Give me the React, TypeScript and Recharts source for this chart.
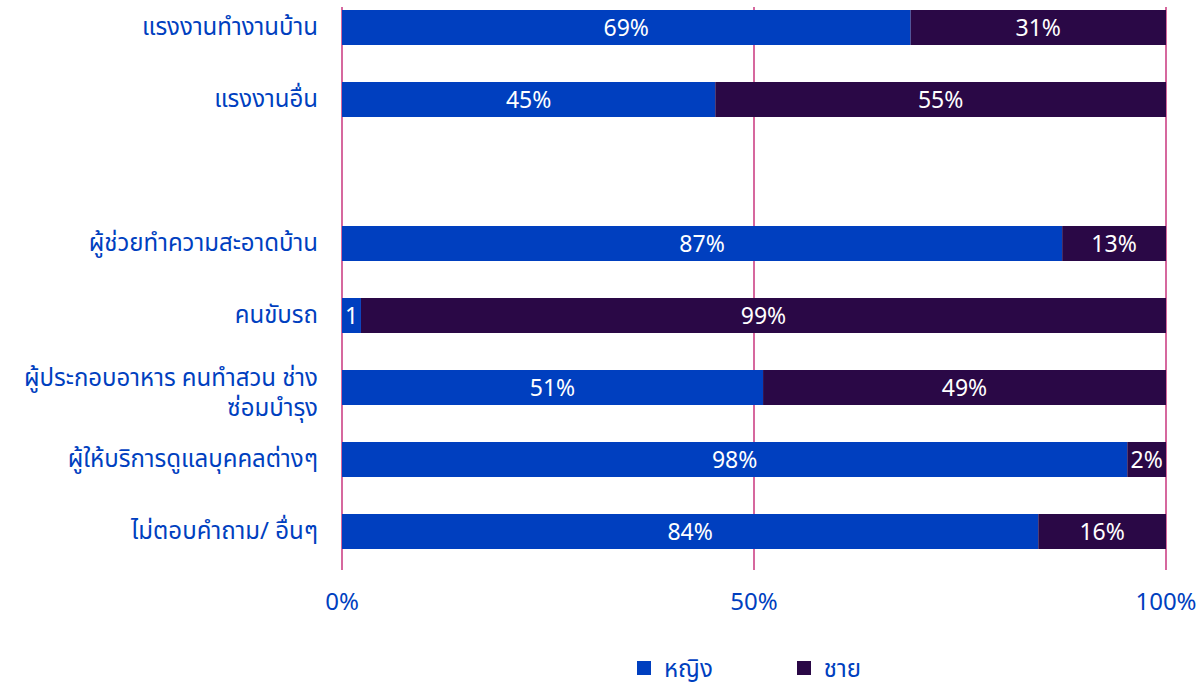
import { BarChart, Bar, XAxis, YAxis, CartesianGrid, Legend, LabelList } from 'recharts';

const categories = [
  'แรงงานทำงานบ้าน',
  'แรงงานอื่น',
  '',
  'ผู้ช่วยทำความสะอาดบ้าน',
  'คนขับรถ',
  'ผู้ประกอบอาหาร คนทำสวน ช่าง\nซ่อมบำรุง',
  'ผู้ให้บริการดูแลบุคคลต่างๆ',
  'ไม่ตอบคำถาม/ อื่นๆ',
];
const female = [69, 45.3, null, 87.4, 2.3, 51.1, 95.3, 84.5];
const male = [31, 54.7, null, 12.6, 97.7, 48.9, 4.7, 15.5];
const femaleLabels = ['69%', '45%', '', '87%', '1', '51%', '98%', '84%'];
const maleLabels = ['31%', '55%', '', '13%', '99%', '49%', '2%', '16%'];
const xTicks = [0, 50, 100];

const BLUE = '#003FBF';
const PURPLE = '#2A0846';
const GRID = '#C0176A';
const FONT = '"Noto Sans", "Noto Sans Thai", Tahoma, sans-serif';

const data = categories.map((name, i) => ({
  name,
  female: female[i],
  male: male[i],
  fLabel: femaleLabels[i],
  mLabel: maleLabels[i],
}));

const legendItems = [
  { value: 'หญิง', color: BLUE },
  { value: 'ชาย', color: PURPLE },
];

// eslint-disable-next-line @typescript-eslint/no-explicit-any
const CatTick = ({ x, y, payload }: any) => {
  const lines = String(payload.value).split('\n');
  const lh = 30;
  const start = lines.length > 1 ? -9 : 0;
  return (
    <text x={x - 16} y={y} textAnchor="end" fill={BLUE} fontSize={24} fontFamily={FONT}>
      {lines.map((l, i) => (
        <tspan key={i} x={x - 16} y={y + start + i * lh} dy="0.35em">{l}</tspan>
      ))}
    </text>
  );
};

// eslint-disable-next-line @typescript-eslint/no-explicit-any
const PctTick = ({ x, y, payload }: any) => (
  <text x={x} y={y + 32} textAnchor="middle" fill={BLUE} fontSize={24} fontFamily={FONT}>
    {payload.value}%
  </text>
);

const LegendContent = () => (
  <div style={{
    display: 'flex', justifyContent: 'center', alignItems: 'center', gap: 84,
    paddingLeft: 332, height: 30, fontFamily: FONT,
  }}>
    {legendItems.map(p => (
      <div key={p.value} style={{ display: 'flex', alignItems: 'center', gap: 13, color: BLUE, fontSize: 24, lineHeight: '30px' }}>
        <span style={{ width: 14, height: 14, background: p.color, display: 'inline-block' }} />
        <span>{p.value}</span>
      </div>
    ))}
  </div>
);

export default function App() {
  return (
    <div style={{ position: 'absolute', left: 0, top: 0, background: '#fff' }}>
      <BarChart
        width={1198}
        height={683}
        layout="vertical"
        data={data}
        barSize={35}
        margin={{ top: 7, right: 32, left: 0, bottom: 0 }}
      >
        <CartesianGrid vertical horizontal={false} stroke={GRID} strokeWidth={1.3} />
        <XAxis
          type="number"
          domain={[0, 100]}
          ticks={xTicks}
          axisLine={false}
          tickLine={false}
          tick={<PctTick />}
          height={80}
        />
        <YAxis
          type="category"
          dataKey="name"
          width={342}
          axisLine={false}
          tickLine={false}
          tick={<CatTick />}
          interval={0}
          padding={{ top: -16, bottom: 3 }}
        />
        <Legend verticalAlign="bottom" height={33} wrapperStyle={{ bottom: -3 }} content={<LegendContent />} />
        <Bar dataKey="female" name="หญิง" stackId="s" fill={BLUE} isAnimationActive={false}>
          <LabelList dataKey="fLabel" position="center" fill="#fff" fontSize={23} fontFamily={FONT} />
        </Bar>
        <Bar dataKey="male" name="ชาย" stackId="s" fill={PURPLE} isAnimationActive={false}>
          <LabelList dataKey="mLabel" position="center" fill="#fff" fontSize={23} fontFamily={FONT} />
        </Bar>
      </BarChart>
    </div>
  );
}
